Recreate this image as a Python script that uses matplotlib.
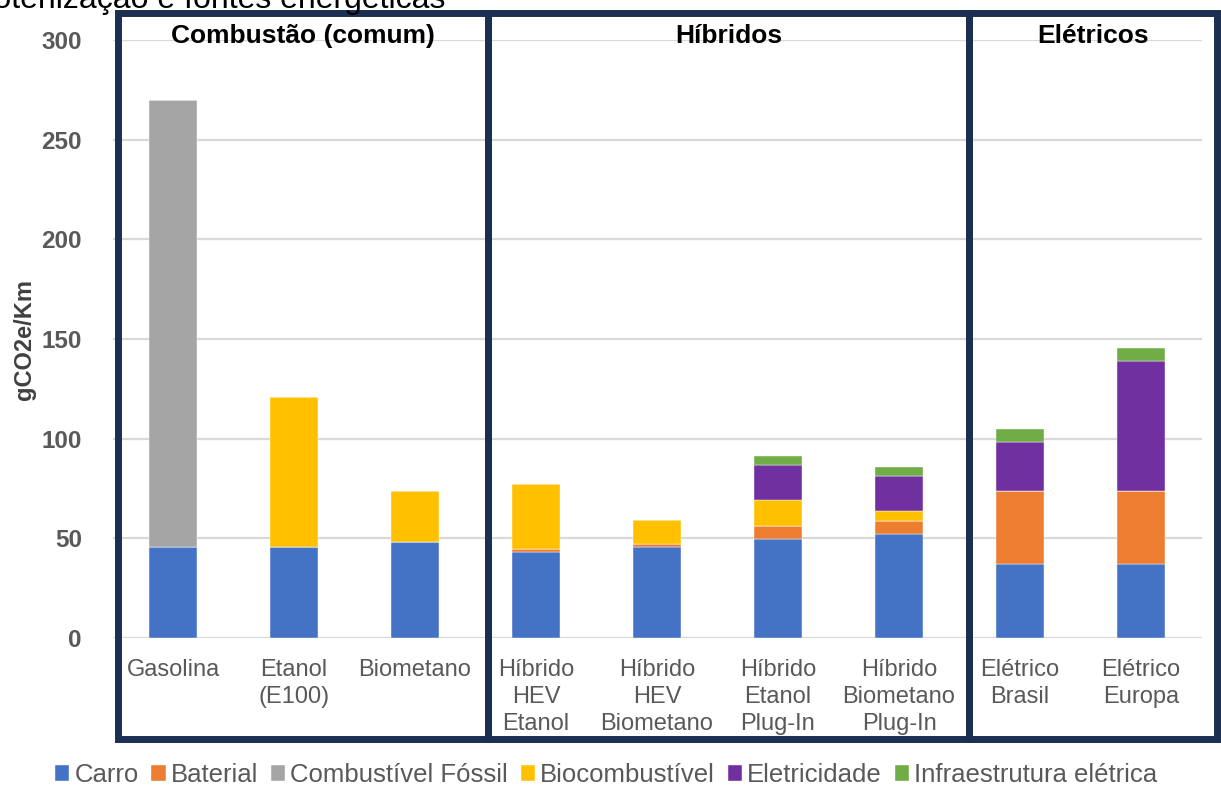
import matplotlib.pyplot as plt
from matplotlib.patches import Rectangle
import numpy as np

plt.rcParams['font.family'] = ['Liberation Sans', 'DejaVu Sans']

# categorias (eixo x)
categorias = ["Gasolina", "Etanol\n(E100)", "Biometano",
              "Híbrido\nHEV\nEtanol", "Híbrido\nHEV\nBiometano",
              "Híbrido\nEtanol\nPlug-In", "Híbrido\nBiometano\nPlug-In",
              "Elétrico\nBrasil", "Elétrico\nEuropa"]

# gCO2e/Km por componente
carro = [45.6, 45.6, 48.2, 43.3, 45.8, 49.8, 52.3, 37.0, 37.0]
bateria = [0, 0, 0, 1.2, 1.4, 6.4, 6.6, 36.8, 36.8]
fossil = [224.3, 0, 0, 0, 0, 0, 0, 0, 0]
biocomb = [0, 75.4, 25.6, 32.9, 12.0, 13.0, 4.8, 0, 0]
eletricidade = [0, 0, 0, 0, 0, 17.8, 17.7, 24.5, 65.2]
infra = [0, 0, 0, 0, 0, 4.3, 4.2, 6.6, 6.3]

series = [carro, bateria, fossil, biocomb, eletricidade, infra]
nomes = ["Carro", "Baterial", "Combustível Fóssil", "Biocombustível",
         "Eletricidade", "Infraestrutura elétrica"]
cores = ["#4472C4", "#ED7D31", "#A5A5A5", "#FFC000", "#7030A0", "#70AD47"]

grupos = ["Combustão (comum)", "Híbridos", "Elétricos"]

W, H = 1221, 787
fig = plt.figure(figsize=(W / 100, H / 100), dpi=100)
ax = fig.add_axes([112.5 / W, 1 - 638 / H, 1089 / W, 598 / H])

x = np.arange(len(categorias))
base = np.zeros(len(categorias))
for vals, nome, cor in zip(series, nomes, cores):
    vals = np.array(vals)
    ax.bar(x, vals, 0.4, bottom=base, color=cor, label=nome,
           edgecolor="white", linewidth=0.3, zorder=3)
    base += vals

ax.set_xlim(-0.5, len(categorias) - 0.5)
ax.set_ylim(0, 300)
ax.set_yticks(np.arange(0, 301, 50))
ax.yaxis.grid(True, color="#D9D9D9", linewidth=1.6, zorder=0)
for s in ax.spines.values():
    s.set_visible(False)
ax.tick_params(axis="both", length=0)
ax.set_xticks(x)
ax.set_xticklabels(categorias, fontsize=17, color="#595959", linespacing=1.3)
ax.tick_params(axis="x", pad=15)
for lab in ax.get_yticklabels():
    lab.set_fontsize(17.5)
    lab.set_fontweight("bold")
    lab.set_color("#595959")
ax.tick_params(axis="y", pad=22)
ax.set_ylabel("gCO2e/Km", fontsize=17, fontweight="bold", color="#404040",
              labelpad=4)

# caixas dos grupos (em pixels da figura)
caixas = [(117.5, 488), (488, 969), (969, 1216.5)]
topo, fundo = 13, 739
for (x0, x1), titulo in zip(caixas, grupos):
    r = Rectangle((x0 / W, 1 - fundo / H), (x1 - x0) / W, (fundo - topo) / H,
                  transform=fig.transFigure, fill=False,
                  edgecolor="#1B2F52", linewidth=5)
    fig.add_artist(r)
    fig.text((x0 + x1) / 2 / W, 1 - 36 / H, titulo, ha="center", va="center",
             fontsize=19, fontweight="bold", color="black")

# titulo cortado no topo
fig.text(445 / W, 1 - 8 / H, "Potenização e fontes energéticas", ha="right",
         va="baseline", fontsize=23, color="black")

ax.legend(loc="center", bbox_to_anchor=(606 / W, 1 - 775 / H),
          bbox_transform=fig.transFigure, ncol=6, frameon=False,
          fontsize=18.5, labelcolor="#595959", handlelength=0.55,
          handleheight=0.6, handletextpad=0.2, columnspacing=0.5)

fig.savefig("out.png", dpi=100)
